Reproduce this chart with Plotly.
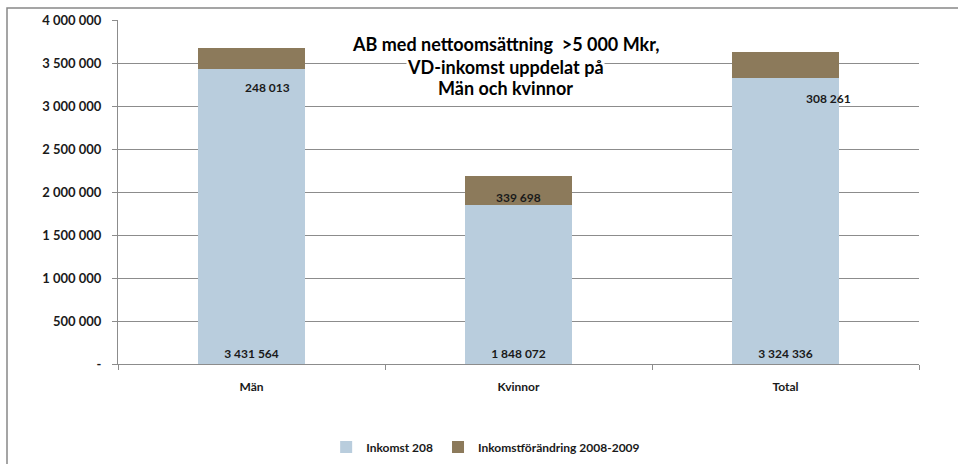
import plotly.graph_objects as go

categories = ["Män", "Kvinnor", "Total"]
inkomst_208 = [3431564, 1848072, 3324336]
inkomst_forandring = [248013, 339698, 308261]
y_tickvals = [0, 500000, 1000000, 1500000, 2000000, 2500000, 3000000, 3500000, 4000000]
y_ticktext = ["-", "500 000", "1 000 000", "1 500 000", "2 000 000", "2 500 000",
              "3 000 000", "3 500 000", "4 000 000"]
title_lines = ["AB med nettoomsättning  >5 000 Mkr,", "VD-inkomst uppdelat på", "Män och kvinnor"]

FONT = "Lato"
BLUE = "#B9CDDD"
BROWN = "#8C7A5B"
GRID = "#8C8C8C"
TXT = "#1a1a1a"


def fmt(v):
    return f"{v:,}".replace(",", " ")


fig = go.Figure()
fig.add_trace(go.Bar(
    x=categories, y=inkomst_208, name="Inkomst 208",
    marker=dict(color=BLUE, line=dict(width=0)),
    text=[fmt(v) for v in inkomst_208], textposition="inside",
    insidetextanchor="start", textangle=0,
    textfont=dict(family=FONT, size=12, color=TXT, weight="bold"),
))
fig.add_trace(go.Bar(
    x=categories, y=inkomst_forandring, name="Inkomstförändring 2008-2009",
    marker=dict(color=BROWN, line=dict(width=0)),
))

# labels of the change series, positioned as in the original
shifts = [(16, -19), (0, 8), (43, -20)]
for c, base, val, (dx, dy) in zip(categories, inkomst_208, inkomst_forandring, shifts):
    fig.add_annotation(x=c, y=base, text=fmt(val), showarrow=False,
                       xshift=dx, yshift=dy, xanchor="center", yanchor="middle",
                       font=dict(family=FONT, size=12, color=TXT, weight="bold"))

# title lines
title_y = [44, 67, 88]
for i, (line, py) in enumerate(zip(title_lines, title_y)):
    fig.add_annotation(xref="paper", yref="paper", x=(505 - 118) / 801, y=(364 - py) / 344,
                       text=line, showarrow=False, xanchor="center", yanchor="middle",
                       bgcolor="white" if i == 1 else "rgba(0,0,0,0)", borderpad=0,
                       font=dict(family=FONT, size=18, color="#000000", weight="bold"))

# outer chart border (left and top visible)
fig.add_shape(type="rect", xref="paper", yref="paper",
              x0=(7 - 118) / 801, x1=(970 - 118) / 801,
              y0=(364 - 480) / 344, y1=(364 - 8) / 344,
              line=dict(color="#888888", width=1.5), layer="below")

fig.update_layout(
    width=958, height=464,
    margin=dict(l=118, r=39, t=20, b=100, autoexpand=False),
    barmode="stack", bargap=0.6,
    plot_bgcolor="white", paper_bgcolor="white",
    font=dict(family=FONT, size=12, color=TXT),
    showlegend=True,
    legend=dict(orientation="h", x=0.459, xanchor="center", y=(364 - 447) / 344,
                yanchor="middle", font=dict(family=FONT, size=12, weight="bold"),
                itemwidth=30, traceorder="normal"),
    uniformtext=dict(minsize=8, mode="show"),
)
fig.update_yaxes(range=[0, 4000000], tickvals=y_tickvals, ticktext=y_ticktext,
                 showgrid=True, gridcolor=GRID, gridwidth=1,
                 showline=True, linecolor=GRID, linewidth=1,
                 ticks="outside", ticklen=5, tickcolor=GRID, ticklabelstandoff=8,
                 zeroline=False,
                 tickfont=dict(family=FONT, size=13, weight="bold", color=TXT))
fig.update_xaxes(showline=True, linecolor=GRID, linewidth=1,
                 ticks="outside", ticklen=5, tickcolor=GRID, tickson="boundaries",
                 ticklabelstandoff=12,
                 tickfont=dict(family=FONT, size=12, weight="bold", color=TXT))

fig.write_html("out.html", config={"displayModeBar": False},
               post_script="document.body.style.margin='0';")
